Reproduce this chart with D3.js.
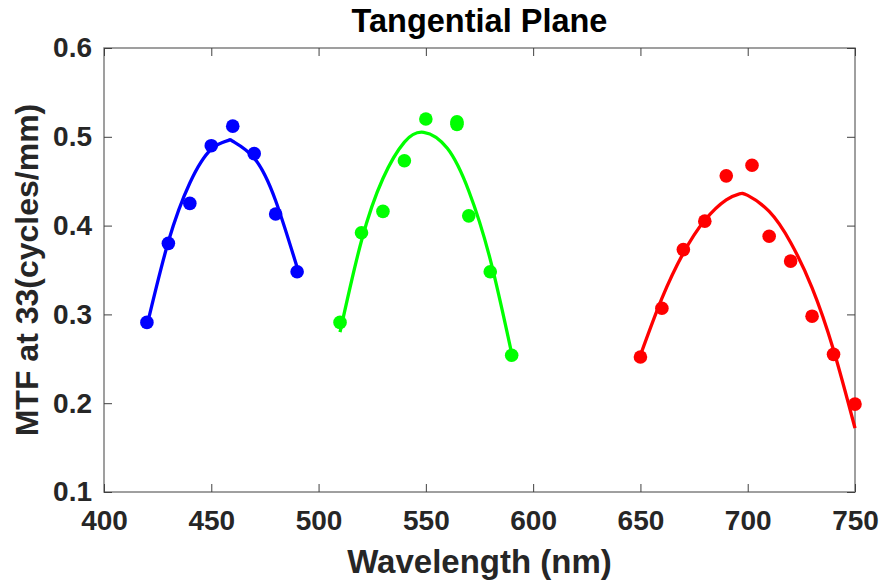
<!DOCTYPE html>
<html>
<head>
<meta charset="utf-8">
<script src="https://cdn.jsdelivr.net/npm/d3@7"></script>
<style>
  body { margin: 0; background: #fff; }
  text { font-family: "Liberation Sans", Arial, sans-serif; font-weight: bold; }
</style>
</head>
<body>
<div id="chart"></div>
<script>
// measured MTF values
const blueWl = [420, 430, 440, 450, 460, 470, 480, 490];
const blueMtf = [0.291, 0.380, 0.425, 0.490, 0.512, 0.481, 0.413, 0.348];
const greenWl = [510, 520, 530, 540, 550, 564.5, 564.5, 570, 580, 590];
const greenMtf = [0.291, 0.392, 0.416, 0.473, 0.520, 0.517, 0.514, 0.411, 0.348, 0.254];
const redWl = [650, 660, 670, 680, 690, 702, 710, 720, 730, 740, 750];
const redMtf = [0.252, 0.307, 0.373, 0.405, 0.456, 0.468, 0.388, 0.360, 0.298, 0.255, 0.199];

// fitted curves
const blueFitWl = [420, 430, 440, 450, 458, 460, 470, 480, 490];
const blueFitMtf = [0.287, 0.382, 0.448, 0.486, 0.496, 0.495, 0.476, 0.428, 0.353];
const greenFitWl = [510, 520, 530, 540, 549, 560, 570, 580, 590];
const greenFitMtf = [0.280, 0.383, 0.453, 0.494, 0.505, 0.487, 0.439, 0.362, 0.256];
const redFitWl = [650, 660, 670, 680, 690, 696, 700, 710, 720, 730, 740, 750];
const redFitMtf = [0.254, 0.318, 0.369, 0.406, 0.429, 0.4356, 0.434, 0.416, 0.381, 0.330, 0.260, 0.172];

const xTicks = [400, 450, 500, 550, 600, 650, 700, 750];
const yTicks = [0.1, 0.2, 0.3, 0.4, 0.5, 0.6];

const width = 883;
const height = 584;
const margin = {left: 104, right: 28, top: 48, bottom: 92};

const xScale = d3.scaleLinear().domain([400, 750]).range([margin.left, width - margin.right]);
const yScale = d3.scaleLinear().domain([0.1, 0.6]).range([height - margin.bottom, margin.top]);

const svg = d3.select('#chart')
    .append('svg')
    .attr('width', width)
    .attr('height', height);

const axisColor = '#808080';
const tickLen = 8;
const tickFont = 28;

// box
svg.append('rect')
    .attr('x', xScale(400))
    .attr('y', yScale(0.6))
    .attr('width', xScale(750) - xScale(400))
    .attr('height', yScale(0.1) - yScale(0.6))
    .attr('fill', 'none')
    .attr('stroke', axisColor)
    .attr('stroke-width', 1.5);

const xAxis = d3.axisBottom(xScale).tickValues(xTicks).tickSizeInner(-tickLen).tickSizeOuter(0).tickPadding(18);
const yAxis = d3.axisLeft(yScale).tickValues(yTicks).tickSizeInner(-tickLen).tickSizeOuter(0).tickPadding(12).tickFormat(d3.format('.1f'));

svg.append('g')
    .attr('transform', `translate(0, ${yScale(0.1)})`)
    .call(xAxis);
svg.append('g')
    .attr('transform', `translate(${xScale(400)}, 0)`)
    .call(yAxis);

// top and right ticks
svg.append('g')
    .attr('transform', `translate(0, ${yScale(0.6)})`)
    .call(d3.axisTop(xScale).tickValues(xTicks).tickSizeInner(-tickLen).tickSizeOuter(0).tickFormat(''));
svg.append('g')
    .attr('transform', `translate(${xScale(750)}, 0)`)
    .call(d3.axisRight(yScale).tickValues(yTicks).tickSizeInner(-tickLen).tickSizeOuter(0).tickFormat(''));

svg.selectAll('.domain').remove();
svg.selectAll('.tick line').attr('stroke', '#404040').attr('stroke-width', 1);
svg.selectAll('.tick text')
    .attr('fill', '#262626')
    .style('font-size', tickFont + 'px')
    .style('font-family', '"Liberation Sans", Arial, sans-serif');

const line = d3.line()
    .x((d) => xScale(d[0]))
    .y((d) => yScale(d[1]))
    .curve(d3.curveNatural);

const series = [
    {wl: blueWl, mtf: blueMtf, fitWl: blueFitWl, fitMtf: blueFitMtf, color: '#0000ff'},
    {wl: greenWl, mtf: greenMtf, fitWl: greenFitWl, fitMtf: greenFitMtf, color: '#00ff00'},
    {wl: redWl, mtf: redMtf, fitWl: redFitWl, fitMtf: redFitMtf, color: '#ff0000'}
];

series.forEach((s) => {
    svg.append('g')
        .selectAll('circle')
        .data(d3.zip(s.wl, s.mtf))
        .enter()
        .append('circle')
        .attr('cx', (d) => xScale(d[0]))
        .attr('cy', (d) => yScale(d[1]))
        .attr('r', 6.8)
        .attr('fill', s.color);

    svg.append('path')
        .datum(d3.zip(s.fitWl, s.fitMtf))
        .attr('d', line)
        .attr('fill', 'none')
        .attr('stroke', s.color)
        .attr('stroke-width', 3.3);
});

// title
svg.append('text')
    .attr('x', (xScale(400) + xScale(750)) / 2)
    .attr('y', 32)
    .attr('text-anchor', 'middle')
    .attr('fill', '#000')
    .style('font-size', '32.5px')
    .text('Tangential Plane');

// x label
svg.append('text')
    .attr('x', (xScale(400) + xScale(750)) / 2)
    .attr('y', 573)
    .attr('text-anchor', 'middle')
    .attr('fill', '#262626')
    .style('font-size', '33px')
    .text('Wavelength (nm)');

// y label
svg.append('text')
    .attr('transform', `translate(38, ${(yScale(0.1) + yScale(0.6)) / 2}) rotate(-90)`)
    .attr('text-anchor', 'middle')
    .attr('fill', '#262626')
    .style('font-size', '32px')
    .text('MTF at 33(cycles/mm)');
</script>
</body>
</html>
